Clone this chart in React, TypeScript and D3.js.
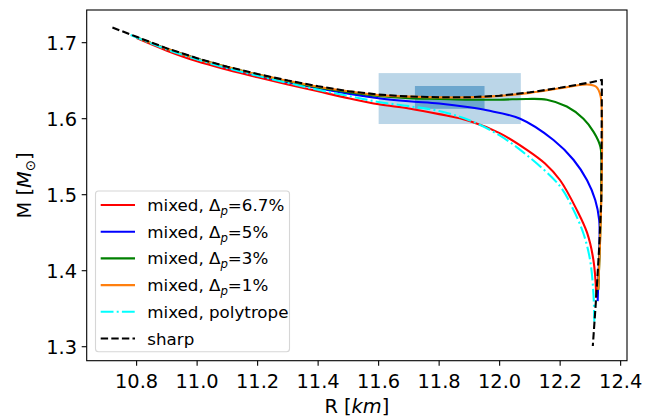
import * as d3 from 'd3';

// ---- data ----
const xTicks = [10.8, 11.0, 11.2, 11.4, 11.6, 11.8, 12.0, 12.2, 12.4];
const yTicks = [1.3, 1.4, 1.5, 1.6, 1.7];

const redR = [10.80, 10.9, 11.0, 11.1, 11.2, 11.3, 11.4, 11.5, 11.6, 11.7, 11.8, 11.9, 12.0, 12.09, 12.15, 12.20, 12.255, 12.289, 12.310, 12.319, 12.319];
const redM = [1.706, 1.6895, 1.6755, 1.6645, 1.6545, 1.645, 1.636, 1.627, 1.619, 1.6135, 1.606, 1.597, 1.581, 1.559, 1.541, 1.519, 1.480, 1.450, 1.414, 1.371, 1.364];

const blueR = [10.80, 10.9, 11.0, 11.1, 11.2, 11.3, 11.4, 11.5, 11.6, 11.7, 11.8, 11.9, 11.958, 12.068, 12.178, 12.244, 12.289, 12.316, 12.329, 12.330, 12.327, 12.324];
const blueM = [1.707, 1.692, 1.679, 1.667, 1.657, 1.648, 1.640, 1.633, 1.627, 1.623, 1.620, 1.615, 1.611, 1.600, 1.572, 1.546, 1.519, 1.493, 1.467, 1.432, 1.397, 1.36];

const greenR = [10.80, 10.9, 11.0, 11.1, 11.2, 11.3, 11.4, 11.5, 11.6, 11.7, 11.8, 11.9, 12.0, 12.09, 12.156, 12.222, 12.277, 12.310, 12.333, 12.336, 12.333, 12.326];
const greenM = [1.707, 1.692, 1.679, 1.668, 1.658, 1.649, 1.641, 1.635, 1.630, 1.627, 1.626, 1.625, 1.625, 1.626, 1.625, 1.616, 1.600, 1.583, 1.563, 1.519, 1.454, 1.375];

const orangeR = [10.80, 10.9, 11.0, 11.1, 11.2, 11.3, 11.4, 11.5, 11.6, 11.7, 11.8, 11.9, 12.0, 12.1, 12.2, 12.289, 12.319, 12.333, 12.338, 12.336, 12.326];
const orangeM = [1.707, 1.692, 1.679, 1.668, 1.658, 1.650, 1.642, 1.636, 1.631, 1.629, 1.628, 1.628, 1.630, 1.634, 1.640, 1.645, 1.642, 1.631, 1.605, 1.493, 1.375];

const polyR = [10.78, 10.9, 11.0, 11.1, 11.2, 11.3, 11.4, 11.5, 11.6, 11.7, 11.8, 11.9, 12.0, 12.09, 12.20, 12.244, 12.277, 12.299, 12.310, 12.313];
const polyM = [1.710, 1.691, 1.678, 1.6665, 1.6565, 1.647, 1.638, 1.630, 1.622, 1.6165, 1.610, 1.598, 1.578, 1.552, 1.511, 1.480, 1.449, 1.414, 1.370, 1.333];

const sharpR = [10.72, 10.80, 10.9, 11.0, 11.1, 11.2, 11.3, 11.4, 11.5, 11.6, 11.7, 11.8, 11.9, 12.0, 12.1, 12.2, 12.3, 12.338, 12.336, 12.329, 12.320, 12.308];
const sharpM = [1.720, 1.7077, 1.6925, 1.6795, 1.6683, 1.6587, 1.6502, 1.6427, 1.6362, 1.6317, 1.6292, 1.6282, 1.6282, 1.6302, 1.6347, 1.6407, 1.6477, 1.651, 1.492, 1.430, 1.370, 1.301];

// shaded boxes [R0, R1, M0, M1]
const outerBox = [11.6, 12.07, 1.593, 1.66];
const innerBox = [11.72, 11.95, 1.613, 1.643];

const series = [
  { label: '6.7%', R: redR, M: redM, color: '#ff0000', dash: null, smooth: true },
  { label: '5%', R: blueR, M: blueM, color: '#0000ff', dash: null, smooth: true },
  { label: '3%', R: greenR, M: greenM, color: '#008000', dash: null, smooth: true },
  { label: '1%', R: orangeR, M: orangeM, color: '#ff7f0e', dash: null, smooth: true },
  { label: 'polytrope', R: polyR, M: polyM, color: '#00ffff', dash: '12.8,3.2,2,3.2', smooth: true },
  { label: 'sharp', R: sharpR, M: sharpM, color: '#000000', dash: '7.4,3.2', smooth: false },
];

const W = 646;
const H = 420;
const left = 86.7, right = 627, top = 10, bottom = 360.7;
const FONT = 'DejaVu Sans, sans-serif';

export default function App() {
  const x = d3.scaleLinear().domain([10.635, 12.421]).range([left, right]);
  const y = d3.scaleLinear().domain([1.2816, 1.743]).range([bottom, top]);

  const makePath = (R: number[], M: number[], smooth: boolean) => {
    const pts = R.map((r, i) => [r, M[i]] as [number, number]);
    const line = d3.line<[number, number]>()
      .x(d => x(d[0]))
      .y(d => y(d[1]))
      .curve(smooth ? d3.curveCatmullRom.alpha(0.5) : d3.curveLinear);
    return line(pts) || '';
  };

  const box = (b: number[], opacity: number) => (
    <rect x={x(b[0])} y={y(b[3])} width={x(b[1]) - x(b[0])} height={y(b[2]) - y(b[3])}
      fill="#1f77b4" fillOpacity={opacity} />
  );

  const legX = 95.5, legY = 191, legW = 194, legH = 160.7;
  const rowY = (i: number) => 205 + i * 26.7;

  return (
    <svg width={W} height={H} style={{ position: 'absolute', left: 0, top: 0, background: '#fff' }}
      fontFamily={FONT}>
      <defs>
        <clipPath id="plot">
          <rect x={left} y={top} width={right - left} height={bottom - top} />
        </clipPath>
      </defs>
      <g clipPath="url(#plot)">
        {box(outerBox, 0.3)}
        {box(innerBox, 0.5)}
        {series.map((s, i) => (
          <path key={i} d={makePath(s.R, s.M, s.smooth)} fill="none" stroke={s.color}
            strokeWidth={2.1} strokeDasharray={s.dash || undefined} strokeLinejoin="round" />
        ))}
      </g>
      <rect x={left} y={top} width={right - left} height={bottom - top} fill="none" stroke="#000" strokeWidth={1.1} />

      {xTicks.map(t => (
        <g key={t}>
          <line x1={x(t)} x2={x(t)} y1={bottom} y2={bottom + 5} stroke="#000" strokeWidth={1.1} />
          <text x={x(t)} y={388} textAnchor="middle" fontSize={19.4} fill="#000">{t.toFixed(1)}</text>
        </g>
      ))}
      {yTicks.map(t => (
        <g key={t}>
          <line x1={left - 5} x2={left} y1={y(t)} y2={y(t)} stroke="#000" strokeWidth={1.1} />
          <text x={77} y={y(t) + 7} textAnchor="end" fontSize={19.4} fill="#000">{t.toFixed(1)}</text>
        </g>
      ))}

      <text x={(left + right) / 2} y={413} textAnchor="middle" fontSize={19.4} fill="#000">
        R [<tspan fontStyle="italic">km</tspan>]
      </text>
      <text transform={`translate(31,${(top + bottom) / 2}) rotate(-90)`} textAnchor="middle" fontSize={19.4} fill="#000">
        M [<tspan fontStyle="italic">M</tspan><tspan fontSize={13.5} dy={4}>⊙</tspan><tspan dy={-4}>]</tspan>
      </text>

      <rect x={legX} y={legY} width={legW} height={legH} rx={3} fill="#fff" fillOpacity={0.8}
        stroke="#d6d6d6" strokeWidth={1.1} />
      {series.map((s, i) => (
        <g key={i}>
          <line x1={100.7} x2={135} y1={rowY(i)} y2={rowY(i)} stroke={s.color} strokeWidth={2.1}
            strokeDasharray={s.dash || undefined} />
          <text x={147.3} y={rowY(i) + 6} fontSize={16.7} fill="#000">
            {s.label === 'sharp' ? 'sharp'
              : s.label === 'polytrope' ? 'mixed, polytrope'
                : (<>mixed, Δ<tspan fontStyle="italic" fontSize={11.7} dy={4}>p</tspan><tspan dy={-4}>={s.label}</tspan></>)}
          </text>
        </g>
      ))}
    </svg>
  );
}
